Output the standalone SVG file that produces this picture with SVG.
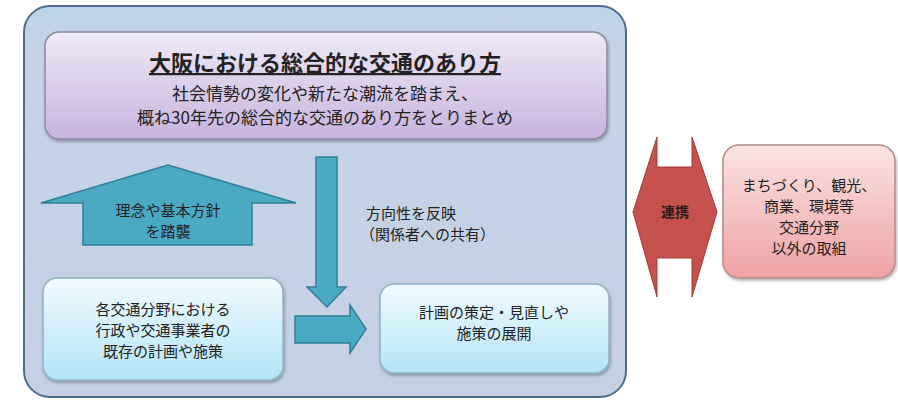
<svg xmlns="http://www.w3.org/2000/svg" width="898" height="404" viewBox="0 0 898 404">
<defs>
<linearGradient id="gPurple" x1="0" y1="0" x2="0" y2="1">
<stop offset="0" stop-color="#eee9f7"/>
<stop offset="1" stop-color="#c8b3dc"/>
</linearGradient>
<linearGradient id="gCyan" x1="0" y1="0" x2="0" y2="1">
<stop offset="0" stop-color="#f2fbfe"/>
<stop offset="1" stop-color="#b3e4f5"/>
</linearGradient>
<linearGradient id="gPink" x1="0" y1="0" x2="0" y2="1">
<stop offset="0" stop-color="#fbe3e3"/>
<stop offset="1" stop-color="#eea2a2"/>
</linearGradient>
<linearGradient id="gOuter" x1="0" y1="0" x2="0" y2="1">
<stop offset="0" stop-color="#bcd3e8"/>
<stop offset="0.12" stop-color="#c6d3e6"/>
<stop offset="1" stop-color="#c5d0e3"/>
</linearGradient>
<filter id="sh" x="-10%" y="-10%" width="120%" height="130%">
<feDropShadow dx="1" dy="2" stdDeviation="1.5" flood-color="#000" flood-opacity="0.3"/>
</filter>
<style>
text{font-family:"Noto Sans CJK JP","Noto Sans",sans-serif;fill:#222;text-anchor:middle}
.box{stroke-width:1.5}
.teal{fill:#4aaac4;stroke:#2f7f95;stroke-width:1.5}
.t15{font-size:15px}
.t17{font-size:17px}
</style>
</defs>
<g id="frame">
<rect x="24" y="6" width="602" height="391" rx="26" fill="url(#gOuter)" stroke="#4d6d8c" stroke-width="2"/>
</g>
<g id="vision">
<rect class="box" x="45" y="32" width="562" height="107" rx="14" fill="url(#gPurple)" stroke="#8e8aa3" filter="url(#sh)"/>
<text x="325" y="71" style="font-size:22px;font-weight:bold;text-decoration:underline">大阪における総合的な交通のあり方</text>
<text class="t17" x="325" y="100">社会情勢の変化や新たな潮流を踏まえ、</text>
<text class="t17" x="325" y="124">概ね30年先の総合的な交通のあり方をとりまとめ</text>
</g>
<g id="connectors">
<polygon class="teal" points="316,157 337,157 337,287 346,287 327,307 307,287 316,287"/>
<polygon class="teal" points="295,316 350,316 350,305 366,329 350,353 350,343 295,343"/>
<text class="t15" x="366" y="219" style="text-anchor:start">方向性を反映</text>
<text class="t15" x="360" y="240" style="text-anchor:start">（関係者への共有）</text>
</g>
<g id="inherit">
<polygon class="teal" points="83,245 83,203 41,203 168,165 296,203 252,203 252,245"/>
<text class="t15" x="168" y="216">理念や基本方針</text>
<text class="t15" x="168" y="237">を踏襲</text>
</g>
<g id="existing">
<rect class="box" x="43" y="278" width="240" height="102" rx="14" fill="url(#gCyan)" stroke="#8fb2c6" filter="url(#sh)"/>
<text class="t15" x="163" y="315">各交通分野における</text>
<text class="t15" x="163" y="336">行政や交通事業者の</text>
<text class="t15" x="163" y="357">既存の計画や施策</text>
</g>
<g id="plans">
<rect class="box" x="380" y="284" width="229" height="89" rx="14" fill="url(#gCyan)" stroke="#8fb2c6" filter="url(#sh)"/>
<text class="t15" x="494" y="318">計画の策定・見直しや</text>
<text class="t15" x="494" y="339">施策の展開</text>
</g>
<g id="link">
<polygon points="657,137 657,167 692,167 692,137 717,212 692,297 692,258 657,258 657,297 633,212" fill="#c5504c" stroke="#a33c39" stroke-width="1"/>
<text x="675" y="217" style="font-size:14px;font-weight:bold;fill:#2a1a1a">連携</text>
</g>
<g id="others">
<rect class="box" x="723" y="145" width="172" height="133" rx="16" fill="url(#gPink)" stroke="#b58a8a" filter="url(#sh)"/>
<text class="t15" x="809" y="191">まちづくり、観光、</text>
<text class="t15" x="809" y="212">商業、環境等</text>
<text class="t15" x="809" y="233">交通分野</text>
<text class="t15" x="809" y="254">以外の取組</text>
</g>
</svg>
